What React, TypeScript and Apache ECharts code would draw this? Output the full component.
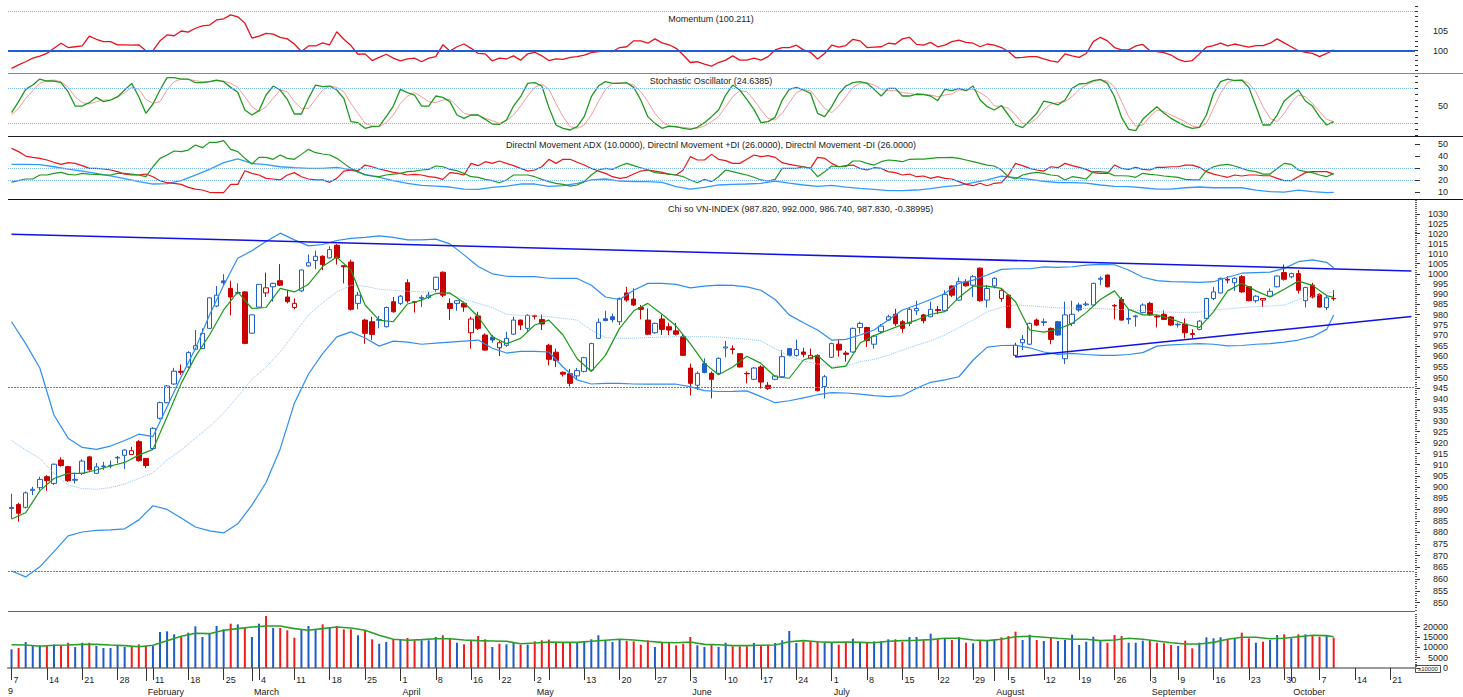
import React, { useEffect, useRef } from 'react';
import * as echarts from 'echarts';

// ---------- categories (trading days) ----------
const JAN_DAYS = [7,8,9,10,11,14,15,16,17,18,21,22,23,24,25,28,29,30,31];
const FEB_DAYS = [1,11,12,13,14,15,18,19,20,21,22,25,26,27,28];
const MAR_DAYS = [1,4,5,6,7,8,11,12,13,14,15,18,19,20,21,22,25,26,27,28,29];
const APR_DAYS = [1,2,3,4,5,8,9,10,11,12,16,17,18,19,22,23,24,25,26];
const MAY_DAYS = [2,3,6,7,8,9,10,13,14,15,16,17,20,21,22,23,24,27,28,29,30,31];
const JUN_DAYS = [3,4,5,6,7,10,11,12,13,14,17,18,19,20,21,24,25,26,27,28];
const JUL_DAYS = [1,2,3,4,5,8,9,10,11,12,15,16,17,18,19,22,23,24,25,26,29,30,31];
const AUG_DAYS = [1,2,5,6,7,8,9,12,13,14,15,16,19,20,21,22,23,26,27,28,29,30];
const SEP_DAYS = [3,4,5,6,9,10,11,12,13,16,17,18,19,20,23,24,25,26,27,30];
const OCT_DAYS = [1,2,3,4,7,8,9,10,11,14,15,16,17,18,21,22,23,24];
const MONTH_DAYS = [JAN_DAYS, FEB_DAYS, MAR_DAYS, APR_DAYS, MAY_DAYS, JUN_DAYS, JUL_DAYS, AUG_DAYS, SEP_DAYS, OCT_DAYS];
const MONTH_NAMES = ['January','February','March','April','May','June','July','August','September','October'];

// ---------- price (OHLC) ----------
const OPEN = [890.5,892.3,891,898.5,899.7,904.6,901.6,912.1,909.1,903,
 906.1,913.5,906.1,909.2,909.4,913,914.2,914.6,920.4,912.8,
 917.3,931.1,938.3,947,953,955,963.4,963.7,973.4,984.2,
 996.5,992.8,990.5,991.1,971.1,983.7,990.6,993.6,996.6,988.6,
 983.5,991.6,1003.9,1006.6,1008.7,1007.9,1014.2,1004,1005.8,985.5,
 977.4,976.6,977.3,974.2,986.3,985.5,995.6,986.3,988,988.4,
 992.3,1000.8,985.5,985.5,985.5,971.3,979.4,970.2,969.2,964.1,
 965.3,970.6,977.4,973.4,979.5,977.7,965.3,962,952.5,951.8,
 950.8,952.9,953.5,968.6,978,979,976.6,990.6,987.6,983.5,
 977.4,971.3,977.9,974.2,972.2,969.4,954.5,946.4,956.6,952,
 952,964,963.6,961.3,952,949.2,955,946.4,949.2,950.4,
 963.7,960.5,962.1,958.9,960.5,945.8,959.6,965.8,961.6,962.1,
 973.8,973.8,965.8,971.8,977.4,980.2,976.6,975.8,981.9,979.9,
 979,982.5,981.9,994,987.1,996.1,994.4,1002.8,987.1,994,
 987.9,989.5,960.5,966.5,965.8,977.4,976.2,973.4,976.6,958.9,
 975.8,984.7,984.8,984.7,997.3,999.4,984.5,987.4,978.2,979,
 981,985.5,979.2,980.2,978.9,975.1,975.4,970.9,972.9,978.2,
 987.9,990.6,997.3,995.6,998.6,993.6,986.8,987.1,989,993.6,
 1000.6,998.5,1000.1,986.8,994.4,989.9,983.5,987.82];
const HIGH = [897,893,898,900.1,904.6,905.3,910.5,913.3,909.5,906.4,
 912.4,914,910.7,911.3,911.8,913.9,916.9,918,921.2,913,
 927,938.8,946.5,954.6,956.2,962.5,972.6,973.4,988.5,994,
 999.8,996.6,995.3,991.5,980.2,995,1000.6,995.6,1004.8,991.9,
 987.9,1002,1009.6,1011.5,1009.2,1013.7,1014.8,1004.2,1007,991.1,
 978,979,979.4,984,988.6,989.5,997.3,986.5,989.5,991.1,
 998.6,1001.2,987.9,987.1,986.3,979,981.4,971,970.2,967.3,
 971.8,979,977.6,980.2,980,980,966,963.7,952.9,954,
 954.5,959.8,966.5,978.2,981.9,980.5,988.3,993.6,992.8,984.7,
 983,976.2,979.9,976.1,976,970.5,956.6,952.9,959.1,952.9,
 959.5,967.4,965.3,961.6,952.9,955,955.8,947.9,951.2,963,
 964,968,964.1,963.7,961,951.3,966.5,968,962.6,973.8,
 976.6,974.2,970.2,975.5,980,982.8,977.4,983.5,986.8,980.4,
 986.3,984.2,991.9,994.4,998.3,997.3,999.4,1003.2,994.4,998.3,
 992.8,990,966.5,970.2,976.2,978.2,978.2,973.8,977,986.3,
 986.8,985.8,986.3,995.6,998.8,999.6,985.2,988.6,982.3,979.9,
 985.5,986.3,979.9,982.1,979.4,976.2,978.2,973,977.3,988.2,
 993.6,998.1,998.8,998.3,999.4,994,989.5,988,992.8,999.2,
 1004.6,1000.6,1001.9,993.6,995.6,990.4,989.5,992];
const LOW = [886,884.7,890.5,896.4,898.6,898.3,900.9,909.1,902.3,901.6,
 905.3,907.3,905.8,907.7,908.4,910.7,908,914.3,911.3,908.4,
 916.8,930.5,938,946.6,951.3,954.5,963,963.5,973,983.7,
 994.4,979.7,989.9,965.8,970.8,983.5,988.6,986.3,994,985.5,
 982.6,991,1003.5,1002.3,1001.8,1007.5,1004.6,995.3,982,982.6,
 966,967.8,973.4,973.8,981,984.7,985.8,981.1,983.7,987.6,
 991.1,988.6,977.4,981.9,981.4,963.7,972.6,962.7,966.5,960.2,
 964.6,970.2,972.6,971.6,977.7,972.6,955.8,955,950.5,945.8,
 948.9,952.5,953,968.3,976.8,976.3,975,986.3,984.2,977.7,
 970.2,970.8,970.2,970.2,970,960.2,941.6,944.2,952,940.3,
 951.5,959.6,961,954.7,947.3,948.8,944.9,944.2,948.8,950,
 960,959.9,959.6,958.9,943.5,940.3,959.2,959.9,957.5,961.8,
 970.9,964.5,963.7,971,976.9,974.5,971.3,974.5,979.9,975.8,
 978.8,980.2,981.5,988.6,986.8,993.6,988.6,986.3,983.5,992.8,
 986.3,973.4,959.6,963,965.3,974.5,974.5,965.8,969.8,956.4,
 974.5,981.4,984.2,984.2,994.4,993.3,977.7,977,975.5,974.2,
 980.7,979.4,973.8,977.4,974.5,973.8,968.6,968.6,972.5,977.8,
 987.1,990.3,995.3,991.6,990.6,986.5,985.8,983.7,988.6,993.3,
 996.6,997.8,990.3,983.5,987.9,983.5,982.3,986.74];
const CLOSE = [891,888.4,897.4,899,903.4,902.8,910.2,909.6,902.8,903.4,
 911.6,907.7,909,909.4,909.7,913.3,916.6,916.3,911.8,909.6,
 926.5,938.3,946.1,953,952.5,961.8,965.1,971,988.2,989.5,
 995.6,988.6,990.8,966.2,979.9,994.8,993.1,995.3,994.4,986.3,
 985.5,1001.9,1005.5,1008.7,1004.6,1012,1007.9,1003.5,982.6,989.5,
 971,970.5,977.7,983.5,981.4,989,986.7,986,988.4,989.5,
 998.3,989.5,983,986.8,983.7,977.9,973.4,963,967.8,966.5,
 968.6,977.4,975,979.7,979.1,975.5,958.6,958.1,951.6,947.3,
 953.3,959.4,966.1,976.3,977.2,977.6,987.9,987.1,984.7,982.6,
 970.6,975.8,972.9,972.6,970.6,960.5,947.3,952,952.4,949.2,
 959.1,964.5,963.3,955,951.8,954.5,947.9,944.9,950.8,959.9,
 960.5,963.3,961,960.5,943.9,950.4,966.1,963,961,973.4,
 975.8,967.5,969.7,974.5,979,975.6,973.4,982.6,983,977.1,
 982.6,982,989.9,989.5,996.1,994.1,998.6,986.8,992.8,997.8,
 991.9,973.8,965.3,968.1,975.8,975,976.6,968.1,970.2,979.9,
 980.2,982.3,985.2,995.3,997.8,993.6,984.2,977.4,977.8,979.4,
 984.7,979.9,978.9,977.7,975,975.4,971.3,970.5,976.9,987.9,
 991.1,997.8,996.9,997.8,991.1,986.8,989,987.9,991.4,998.9,
 997.3,1000.1,991.9,993.3,988.6,983.7,988.22,987.83];

// Bollinger bands, 5-day average: values read at every second session (0,2,...,186) plus the last one
const BB_UPPER = [976.6,966.1,954.5,932.6,922.0,917.8,916.9,918.4,920.9,923.8,
 922.7,936.4,950.4,963.7,979.9,994.4,1007.7,1011.5,1016.1,1020.3,
 1016.9,1013.9,1014.6,1016.6,1017.7,1018.2,1018.9,1018.2,1016.9,1016.9,
 1017.3,1014.9,1009.4,1003.6,1000.0,998.8,998.6,998.6,997.8,997.7,
 997.7,994.4,988.6,987.4,991.9,995.3,995.3,994.8,993.1,993.9,
 994.4,994.3,993.6,991.9,987.4,979.9,976.1,972.6,967.8,968.1,
 970.2,972.6,977.4,982.3,984.7,987.4,990.3,995.3,996.9,999.4,
 1002.2,1002.5,1002.5,1003.4,1003.2,1003.5,1004.3,1004.7,1004.5,1001.9,
 998.3,996.6,996.1,996.0,995.8,996.1,998.3,1000.3,1000.6,1000.8,
 1002.7,1006.0,1006.9,1005.7];
const BB_UPPER_LAST = 1003.0;
const BB_MIDDLE = [920.9,916.6,912.8,906.1,900.9,899.3,899.0,899.7,901.3,903.8,
 906.3,912.1,916.6,922.0,927.3,933.5,941.1,949.2,955.0,962.1,
 971.0,979.9,985.8,991.1,994.4,993.9,992.4,991.9,991.4,991.1,
 991.1,989.9,987.6,985.5,983.5,980.2,979.7,979.4,979.0,978.2,
 977.4,972.6,969.0,968.6,968.7,969.0,969.2,969.4,969.4,969.4,
 969.2,968.7,968.2,967.4,963.7,960.2,957.8,956.4,955.4,955.4,
 957.5,958.6,960.5,963.0,965.3,967.4,970.2,973.8,977.4,981.4,
 983.6,984.7,984.3,983.8,983.3,983.2,983.0,982.9,982.6,982.4,
 981.9,981.4,981.2,981.1,981.2,982.3,982.8,983.4,983.9,984.2,
 984.7,987.4,989.0,990.3];
const BB_MIDDLE_LAST = 991.1;
const BB_LOWER = [863.4,860.9,865.2,871.7,878.5,880.2,880.9,881.1,881.6,885.5,
 891.7,890.1,886.3,882.4,880.7,879.8,883.8,892.0,902.0,917.1,
 938.0,951.7,961.3,969.3,971.7,968.8,964.9,967.3,966.8,965.8,
 966.3,966.8,967.3,967.8,963.9,961.6,962.4,962.4,962.1,955.0,
 948.9,947.0,947.3,947.3,947.0,946.9,946.9,946.9,945.8,943.9,
 943.5,943.6,943.8,941.1,938.3,939.2,940.5,942.0,943.0,942.8,
 942.3,941.6,941.1,941.6,945.0,947.8,948.9,950.4,958.3,964.4,
 965.2,965.3,964.1,962.1,961.0,961.4,960.9,960.5,960.5,960.9,
 961.8,964.9,965.5,965.8,966.1,965.8,965.0,965.2,965.8,966.1,
 966.8,967.8,969.4,972.9];
const BB_LOWER_LAST = 979.9;
const MA_FAST = [885.9,888.6,898.3,903.8,906.1,906.1,907.6,909.4,911.0,914.3,
 916.9,931.8,947.3,959.9,970.2,982.3,991.1,983.0,983.5,992.8,
 991.1,994.9,1003.6,1008.3,1001.9,984.7,977.4,976.6,985.2,987.1,
 990.3,990.6,985.8,979.0,969.4,966.1,968.6,975.0,977.4,970.2,
 958.9,952.9,960.5,973.4,981.9,985.5,980.2,974.5,966.1,956.7,
 951.3,955.0,960.1,956.7,950.4,949.7,958.3,960.5,954.5,955.4,
 966.4,969.9,972.6,975.2,977.4,980.2,981.5,988.4,993.9,993.9,
 992.8,986.3,972.6,971.6,973.0,975.8,981.0,987.4,991.6,982.6,
 979.9,979.9,977.9,975.5,973.8,981.4,991.6,995.3,991.6,988.6,
 992.4,996.4,994.3,989.3];
const MA_FAST_LAST = 988.4;

const UPPER_TREND = [1019.8, 1001.4];
const LOWER_TREND = [959.7, 979.1];
const SUPPORT_LEVELS = [945.6, 863.4];

// ---------- momentum ----------
const MOMENTUM = [95.5,96.4,97.2,98.1,98.6,99.3,100.6,101.9,100.8,101.0,
 101.2,103.7,102.9,102.3,102.3,101.5,101.5,101.4,101.5,100.0,
 100.0,102.5,104.0,103.8,105.0,104.7,105.7,106.3,106.5,107.8,
 108.1,109.1,108.6,107.0,103.2,103.7,104.4,104.2,103.4,103.0,
 101.7,99.8,101.2,101.2,102.0,101.5,104.8,102.9,101.3,99.1,
 99.2,97.5,98.3,99.1,98.1,97.4,97.9,98.1,97.2,98.1,
 98.5,101.5,99.9,101.0,101.7,100.6,99.3,99.2,97.4,98.1,
 97.9,98.7,97.6,99.2,99.6,98.7,97.5,97.9,97.8,98.3,
 98.5,98.9,99.5,99.8,99.9,99.8,100.8,101.0,102.5,102.5,
 101.9,103.0,102.0,101.5,100.6,98.9,97.0,97.2,96.6,96.1,
 97.0,97.6,98.7,97.6,97.6,98.1,97.6,98.5,100.2,100.8,
 100.8,101.4,100.2,99.6,97.9,99.3,101.4,100.9,101.3,102.9,
 102.5,100.8,100.9,101.0,101.9,101.7,103.0,103.4,101.6,101.4,
 102.1,101.0,101.4,102.3,102.7,102.1,101.9,101.0,101.7,101.4,
 100.8,99.8,98.2,98.3,98.5,98.5,97.9,97.4,97.1,99.2,
 98.7,98.3,99.3,102.3,103.4,102.5,100.8,100.2,100.2,101.2,
 101.6,100.0,99.8,99.5,98.9,97.8,97.2,97.5,99.2,100.9,
 101.3,101.9,101.2,101.7,101.3,100.9,101.3,101.3,101.9,103.0,
 102.0,101.0,100.0,99.6,99.3,98.5,99.3,100.2];

// ---------- stochastic ----------
const STOCH_K = [38.2,57.1,78.2,85.6,95.9,92.5,92.5,89.6,74.2,49.6,
 49.6,55.4,64.5,57.1,59.9,65.6,77.1,88.5,65.6,37.1,
 53.1,77.1,98.2,98.2,95.9,95.9,89.6,89.6,91.4,94.2,
 91.4,81.6,73.1,42.8,34.2,41.7,68.5,83.9,77.1,61.1,
 35.9,35.9,62.8,85.6,82.8,83.9,77.1,62.8,22.8,21.1,
 11.4,14.2,15.3,31.4,49.6,78.2,72.5,68.5,49.6,49.6,
 66.8,64.5,57.1,34.2,28.5,34.2,34.2,26.8,18.8,18.0,
 25.6,49.6,65.6,88.5,89.6,83.9,47.3,17.1,11.4,8.5,
 14.2,31.4,65.6,83.9,91.4,88.5,88.5,89.6,81.6,59.9,
 31.4,19.9,11.4,15.3,14.2,11.4,9.6,13.1,21.1,31.4,
 42.8,68.5,85.6,77.1,61.1,43.9,21.1,22.8,30.2,59.9,
 78.2,81.6,77.1,71.4,37.1,31.4,48.5,70.2,83.9,89.6,
 91.4,88.5,78.2,66.8,79.9,79.9,66.8,66.8,70.2,69.6,
 66.8,58.8,78.2,75.9,79.9,75.9,83.9,59.9,48.5,42.8,
 50.5,34.2,17.1,12.5,24.5,37.1,58.2,55.4,51.4,59.9,
 79.9,87.4,88.5,93.1,95.4,88.5,65.6,30.2,9.6,7.4,
 26.8,38.2,48.5,37.1,28.5,21.6,15.3,11.4,13.1,34.2,
 71.4,91.4,95.9,93.1,94.2,81.6,49.6,17.1,17.1,34.2,
 58.2,68.5,77.1,58.2,49.6,31.4,17.1,22.8];
const STOCH_D = [34.2,45.6,62.8,75.9,88.5,93.1,94.2,91.4,81.6,65.6,
 55.4,53.1,57.1,59.9,59.9,64.5,72.5,81.6,78.2,61.1,
 54.2,57.1,77.1,91.4,95.9,95.4,93.1,91.4,91.4,92.5,
 92.5,88.5,81.6,65.6,48.5,39.9,48.5,62.8,77.1,74.2,
 57.1,45.6,45.6,61.1,77.1,83.9,81.6,74.2,54.2,37.1,
 19.9,15.3,14.2,21.1,34.2,54.2,66.8,72.5,65.6,57.1,
 55.4,59.9,61.1,49.6,37.1,34.2,34.2,28.5,24.5,19.9,
 24.5,34.2,49.6,66.8,81.6,87.4,78.2,54.2,31.4,14.2,
 11.4,17.1,34.2,57.1,78.2,88.5,89.6,88.5,85.6,74.2,
 57.1,37.1,22.8,15.3,13.1,13.1,11.4,11.4,15.3,22.8,
 31.4,48.5,65.6,75.9,74.2,59.9,42.8,28.5,25.6,37.1,
 55.4,72.5,78.2,75.9,61.1,45.6,38.2,49.6,65.6,81.6,
 88.5,89.6,85.6,78.2,75.9,75.9,72.5,71.4,68.5,68.5,
 68.5,65.6,68.5,70.2,77.1,77.1,78.2,72.5,64.5,49.6,
 49.0,45.6,34.2,19.9,19.9,28.5,42.8,53.1,55.4,57.1,
 65.6,78.2,85.6,91.4,94.2,92.5,82.8,57.1,31.4,15.3,
 17.1,31.4,42.8,39.9,34.2,28.5,22.8,15.3,13.1,19.9,
 45.6,71.4,89.6,94.2,94.2,88.5,74.2,48.5,28.5,22.8,
 37.1,55.4,68.5,65.6,54.2,39.9,26.8,22.8];

// ---------- directional movement ----------
const MINUS_DI = [46.6,43.9,40.2,39.1,38.3,36.9,35.0,33.3,34.7,34.1,
 32.2,29.9,29.9,29.4,28.6,27.2,25.2,24.4,24.4,25.2,
 23.0,19.7,18.0,17.5,16.6,14.1,12.7,11.9,10.0,9.7,
 9.7,16.6,16.6,28.0,25.8,24.4,21.6,21.1,20.3,24.4,
 26.4,23.0,21.1,20.3,20.3,18.3,21.6,27.7,28.6,28.0,
 32.7,31.3,29.4,28.0,26.6,25.8,24.4,24.9,24.4,23.0,
 22.5,20.8,26.4,25.8,24.4,34.1,32.2,35.5,34.1,36.1,
 34.1,32.2,29.9,27.7,28.6,31.3,37.5,34.1,37.5,37.5,
 35.0,32.7,29.9,27.7,25.8,23.0,21.6,22.5,25.2,27.7,
 28.6,27.7,26.6,25.2,24.4,28.6,39.7,36.9,36.9,41.6,
 37.5,36.4,34.1,34.1,37.5,41.1,39.7,40.5,39.1,34.7,
 33.3,32.2,31.3,29.9,39.1,38.3,34.1,31.3,32.2,32.7,
 29.9,28.6,30.5,29.9,27.2,26.4,24.4,25.2,23.0,23.6,
 21.6,23.0,21.6,21.1,18.9,16.6,15.5,17.5,15.5,17.5,
 18.0,24.4,34.1,32.2,29.9,28.6,27.7,31.3,30.5,34.1,
 32.2,30.8,29.1,26.4,25.8,25.8,32.7,29.9,29.1,30.8,
 29.1,28.6,30.8,30.8,31.3,31.3,32.7,32.7,30.8,27.2,
 25.2,23.8,22.5,24.4,23.6,24.4,24.4,23.8,23.8,21.6,
 19.7,19.7,23.0,26.4,27.2,27.2,27.2,25.2];
const PLUS_DI = [18.5,19.7,21.1,21.1,24.4,24.4,25.8,26.6,24.9,24.4,
 25.8,25.2,24.9,24.4,24.4,25.8,25.8,25.2,24.4,23.0,
 31.3,38.3,41.1,44.4,43.9,45.2,49.4,47.2,51.6,51.6,
 53.0,45.8,43.9,38.3,33.6,39.1,39.1,37.5,41.1,38.3,
 37.5,41.6,45.8,43.0,41.9,41.1,38.3,34.1,29.9,27.2,
 24.4,23.6,23.0,24.4,25.2,25.8,27.2,27.7,28.6,29.1,
 31.9,31.3,29.1,28.0,25.8,23.0,22.5,20.8,19.7,18.0,
 20.3,24.4,24.4,24.4,23.0,20.8,18.9,17.5,16.6,15.2,
 16.1,18.9,24.4,28.6,29.9,29.1,31.9,34.1,32.2,30.5,
 28.6,26.4,25.8,25.2,24.4,23.0,20.3,18.0,20.8,18.9,
 23.0,28.6,27.2,25.8,24.4,22.5,20.3,19.4,20.8,29.9,
 29.9,29.9,31.3,29.9,23.0,27.2,31.9,31.3,31.3,36.1,
 36.1,34.1,32.7,35.5,36.9,36.4,35.5,37.5,37.7,37.7,
 38.3,38.9,38.9,39.1,38.3,36.9,35.5,34.1,32.7,31.9,
 28.6,23.0,21.1,24.4,25.8,26.6,25.8,24.4,23.8,20.3,
 23.0,22.2,21.1,27.2,27.2,26.6,23.8,23.8,23.6,22.5,
 25.8,24.9,24.4,23.6,23.0,22.5,20.8,20.3,20.3,28.0,
 31.3,32.7,33.3,31.9,29.9,28.0,27.2,25.2,25.2,29.9,
 34.1,33.3,28.6,27.2,26.4,24.4,23.0,25.8];
// ADX read at every second session, plus the last one
const ADX = [33.3,33.3,33.0,31.3,29.4,27.7,25.8,23.6,21.4,18.9,
 16.9,17.2,19.7,24.4,29.1,34.7,37.8,34.1,33.0,31.3,
 30.5,29.9,29.9,30.8,28.6,24.9,22.5,19.7,17.5,15.8,
 15.2,14.4,12.7,12.5,14.1,15.2,16.9,16.9,14.9,15.5,
 17.5,20.3,21.1,19.4,18.9,18.9,18.3,14.7,12.7,14.1,
 16.1,16.6,16.9,17.5,19.4,17.7,16.1,14.9,15.8,14.4,
 13.3,12.5,11.4,11.4,11.9,13.0,14.7,15.8,18.0,20.3,
 23.4,22.2,20.8,19.2,18.0,18.0,17.7,16.1,14.9,14.7,
 13.8,12.7,12.7,13.8,14.4,13.8,13.8,13.8,11.9,10.5,
 10.2,11.9,10.5,9.7];
const ADX_LAST = 10.0;

// ---------- volume ----------
const VOLUME = [9050,9680,12580,10650,10990,10650,11280,10990,12240,10160,
 12240,12240,10650,9680,9680,10990,10160,10650,11450,10650,
 10650,17420,17750,16300,15000,17090,20170,15000,16620,20330,
 18720,21450,21130,19840,15000,21450,25170,19360,19360,18250,
 14670,18720,20330,18720,21130,19360,20330,18720,18720,15830,
 17910,13890,11760,12580,13890,13890,14520,13410,13410,13410,
 15000,15830,14190,12240,11450,
 13410,15490,13890,10160,11760,11450,12240,11280,11280,12910,
 13410,13730,12580,12100,12100,12100,12910,13890,15830,13410,
 12580,13730,13080,12910,11280,13410,10160,12580,12580,10990,
 11760,15000,10990,10160,11280,10160,12240,10500,10500,10500,
 12100,10990,11280,12100,13410,17910,12100,12580,12580,12910,
 12240,12580,11280,12100,14190,12580,12100,12910,12910,13890,
 13890,12580,15000,15000,13410,16620,
 14000,
 14370,13550,14860,12240,11950,13550,13550,13890,14860,15490,
 17570,13550,16120,13550,13070,14860,13070,13550,16120,11130,
 12730,15150,13230,12240,15970,15490,12240,12240,13230,13230,
 12240,11950,11130,10650,13230,9530,12240,14860,14370,14860,
 13890,14370,17090,14370,12240,12730,13550,15970,16300,14370,
 16300,16300,15970,15150,15970,14670];
// volume average read at every second session, plus the last one
const VOLUME_MA = [11280,11130,10500,10990,11130,11450,11450,11130,10840,10310,
 10990,13230,15340,16790,16620,18250,19040,19840,20330,20330,
 19040,18250,19040,19840,19360,18250,15830,13890,13410,13730,
 14190,14190,13570,13230,13070,12910,11760,12100,12580,12420,
 12420,12910,13410,13890,13570,12910,12420,12240,12580,11450,
 11280,10840,10840,10990,11130,12740,13230,12740,12420,12580,
 12420,12240,12910,13230,13410,13730,14370,14370,13550,13230,
 13890,15150,15340,14860,14370,13890,13890,13230,13550,14370,
 13890,13070,12240,11620,11620,12400,13890,14860,14860,14180,
 14370,15150,15830,15650];
const VOLUME_MA_LAST = 15150;

// tick label lists
const PRICE_LABELS = [850,855,860,865,870,875,880,885,890,895,900,905,910,915,920,925,930,935,940,945,950,955,960,965,970,975,980,985,990,995,1000,1005,1010,1015,1020,1025,1030];
const MOM_LABELS = [100, 105];
const STOCH_LABELS = [50];
const DMI_LABELS = [10, 20, 30, 40, 50];
const VOL_LABELS = [0, 5000, 10000, 15000, 20000];

const BLUE = '#1f5fc8';
const RED = '#c80000';
const VBLUE = '#1f5bc4';
const VRED = '#f01c1c';
const FONT = '"Liberation Sans", Arial, sans-serif';

export default function App() {
  const ref = useRef<HTMLDivElement>(null);
  useEffect(() => {
    if (!ref.current) return;
    const chart = echarts.init(ref.current, undefined, { renderer: 'svg' });

    // categories
    const cats: string[] = [];
    const dayNum: number[] = [];
    const monthIdx: number[] = [];
    const dows: number[] = [];
    MONTH_DAYS.forEach((days, m) => days.forEach((d) => {
      cats.push(`2019-${m + 1}-${d}`);
      dayNum.push(d);
      monthIdx.push(m);
      dows.push(new Date(2019, m, d).getDay());
    }));
    const N = cats.length;
    const weekStart: boolean[] = [];
    const monthStart: boolean[] = [];
    const dayLabel: boolean[] = [];
    let lastLab = -10;
    for (let i = 0; i < N; i++) {
      const ws = i === 0 || dows[i] <= dows[i - 1];
      weekStart.push(ws);
      monthStart.push(i > 0 && monthIdx[i] !== monthIdx[i - 1]);
      const lab = ws && i - lastLab >= 3;
      if (lab) lastLab = i;
      dayLabel.push(lab);
    }

    const candleData = CLOSE.map((c, i) => {
      const o = OPEN[i];
      const prev = i > 0 ? CLOSE[i - 1] : o - 1;
      const col = c >= prev ? BLUE : RED;
      const fill = c >= o ? '#ffffff' : col;
      return { value: [o, c, LOW[i], HIGH[i]], itemStyle: { color: fill, color0: fill, borderColor: col, borderColor0: col, borderWidth: 1 } };
    });
    const volData = VOLUME.map((v, i) => {
      const prev = i > 0 ? CLOSE[i - 1] : OPEN[0] - 1;
      return { value: v, itemStyle: { color: CLOSE[i] >= prev ? VBLUE : VRED } };
    });
    const every2 = (arr: number[], last: number) => {
      const out: number[][] = arr.map((v, k) => [2 * k, v]);
      out.push([CLOSE.length - 1, last]);
      return out;
    };
    const range = (a: number, b: number, s: number) => { const r: number[] = []; for (let v = a; v <= b + 1e-9; v += s) r.push(Math.round(v * 100) / 100); return r; };
    const plain = (v: number) => String(Math.round(v));

    const lbl = { fontSize: 9, color: '#222', fontFamily: FONT };
    const xCat = (gi: number) => ({ type: 'category', gridIndex: gi, data: cats, show: false, boundaryGap: true });
    const valAxis = (gi: number, min: number, max: number, labels: number[], ticks: number[], tickLen: number) => ({
      type: 'value', gridIndex: gi, position: 'right', min, max, scale: true,
      splitLine: { show: false },
      axisLine: { show: false },
      axisTick: { show: true, customValues: ticks, length: tickLen, lineStyle: { color: '#333', width: 1 } },
      axisLabel: { show: true, customValues: labels, align: 'right', margin: 33, formatter: plain, ...lbl },
    });
    const dotted = (v: number, color: string) => ({ yAxis: v, lineStyle: { color, width: 1, type: 'dotted' } });
    const lineS = (xi: number, yi: number, data: any, color: string, width: number, extra: any = {}) => ({
      type: 'line', xAxisIndex: xi, yAxisIndex: yi, data, symbol: 'none', silent: true, connectNulls: true,
      lineStyle: { color, width }, itemStyle: { color }, z: 3, ...extra,
    });
    const mk = (data: any[]) => ({ silent: true, symbol: 'none', label: { show: false }, emphasis: { disabled: true }, data });

    const grids = [
      { left: 8, right: 48, top: 0, height: 73 },
      { left: 8, right: 48, top: 73.5, height: 62.5 },
      { left: 8, right: 48, top: 136.5, height: 62.5 },
      { left: 8, right: 48, top: 200, height: 411.5 },
      { left: 8, right: 48, top: 612.5, height: 59.5 },
    ].map((g) => ({ ...g, containLabel: false, outerBoundsMode: 'none' }));

    const option: any = {
      animation: false,
      backgroundColor: '#ffffff',
      textStyle: { fontFamily: FONT },
      grid: grids,
      xAxis: [
        xCat(0), xCat(1), xCat(2), xCat(3),
        {
          type: 'category', gridIndex: 4, data: cats, boundaryGap: true, position: 'bottom',
          axisLine: { show: true, lineStyle: { color: '#333', width: 1 } },
          axisTick: { show: true, alignWithLabel: true, length: 12, interval: (i: number) => weekStart[i] || monthStart[i], lineStyle: { color: '#333' } },
          axisLabel: { show: true, interval: (i: number) => dayLabel[i], formatter: (_v: string, i: number) => String(dayNum[i]), align: 'left', padding: [0, 0, 0, 2], margin: 3, ...lbl },
          splitLine: { show: false },
        },
        {
          type: 'category', gridIndex: 4, data: cats, boundaryGap: true, position: 'bottom', offset: 12,
          axisLine: { show: true, lineStyle: { color: '#999', width: 2 } },
          axisTick: { show: true, alignWithLabel: true, length: 13, interval: (i: number) => monthStart[i], lineStyle: { color: '#333' } },
          axisLabel: { show: true, interval: (i: number) => monthStart[i], formatter: (_v: string, i: number) => MONTH_NAMES[monthIdx[i]], align: 'left', padding: [0, 0, 0, 2], margin: 3, ...lbl },
          splitLine: { show: false },
        },
      ],
      yAxis: [
        valAxis(0, 94.34, 112.87, MOM_LABELS, range(95, 112, 1.25), 3),
        valAxis(1, -1.8, 105.4, STOCH_LABELS, range(0, 100, 10), 3),
        valAxis(2, 4.42, 56.5, DMI_LABELS, DMI_LABELS, 5),
        {
          type: 'log', logBase: 10, gridIndex: 3, position: 'right', min: 846.3, max: 1037.15,
          splitLine: { show: false }, axisLine: { show: false },
          axisTick: { show: true, customValues: PRICE_LABELS, length: 5, lineStyle: { color: '#333' } },
          axisLabel: { show: true, customValues: PRICE_LABELS, align: 'right', margin: 33, formatter: plain, ...lbl },
        },
        {
          type: 'log', logBase: 10, gridIndex: 3, position: 'right', min: 846.3, max: 1037.15,
          splitLine: { show: false }, axisLine: { show: false },
          axisTick: { show: true, customValues: range(847, 1037, 1), length: 2, lineStyle: { color: '#555' } },
          axisLabel: { show: false },
        },
        valAxis(4, -1936, 26860, VOL_LABELS, VOL_LABELS, 5),
        {
          type: 'value', gridIndex: 4, position: 'right', min: -1936, max: 26860,
          splitLine: { show: false }, axisLine: { show: false },
          axisTick: { show: true, customValues: range(0, 26000, 1000), length: 2, lineStyle: { color: '#555' } },
          axisLabel: { show: false },
        },
      ],
      series: [
        lineS(0, 0, MOMENTUM, '#e5131b', 1.3, { markLine: mk([
          { yAxis: 100, lineStyle: { color: '#1f5fd6', width: 2, type: 'solid' } },
          dotted(110, '#7fb6f4'),
        ]) }),
        lineS(1, 1, STOCH_D, '#f29a9a', 1, { markLine: mk([dotted(80, '#7fb6f4'), dotted(20, '#7fb6f4')]) }),
        lineS(1, 1, STOCH_K, '#1e9a1e', 1.3),
        lineS(2, 2, every2(ADX, ADX_LAST), '#3399ff', 1.3, { markLine: mk([dotted(30, '#7fb6f4'), dotted(20, '#7fb6f4')]) }),
        lineS(2, 2, MINUS_DI, '#e8161b', 1.2),
        lineS(2, 2, PLUS_DI, '#1e9a1e', 1.2),
        {
          type: 'candlestick', xAxisIndex: 3, yAxisIndex: 3, data: candleData, barWidth: 5, silent: true, z: 2,
          markLine: mk([
            [{ coord: [cats[0], UPPER_TREND[0]] }, { coord: [cats[N - 1], UPPER_TREND[1]], lineStyle: { color: '#1010e8', width: 1.5, type: 'solid' } }],
            [{ coord: [cats[142], LOWER_TREND[0]] }, { coord: [cats[N - 1], LOWER_TREND[1]], lineStyle: { color: '#1010e8', width: 1.5, type: 'solid' } }],
            { yAxis: SUPPORT_LEVELS[0], lineStyle: { color: '#6a6af2', width: 1, type: [2, 1] } },
            { yAxis: SUPPORT_LEVELS[1], lineStyle: { color: '#6a6af2', width: 1, type: [2, 1] } },
          ]),
        },
        lineS(3, 3, every2(BB_UPPER, BB_UPPER_LAST), '#2e8ef0', 1.2),
        lineS(3, 3, every2(BB_LOWER, BB_LOWER_LAST), '#2e8ef0', 1.2),
        lineS(3, 3, every2(BB_MIDDLE, BB_MIDDLE_LAST), '#8ec4f6', 1, { lineStyle: { color: '#8ec4f6', width: 1, type: 'dotted' } }),
        lineS(3, 3, every2(MA_FAST, MA_FAST_LAST), '#1a9a1a', 1.2),
        { type: 'bar', xAxisIndex: 4, yAxisIndex: 5, data: volData, barWidth: 2, silent: true, z: 2 },
        lineS(4, 5, every2(VOLUME_MA, VOLUME_MA_LAST), '#2aa02a', 1.6),
      ],
      graphic: [
        { type: 'line', shape: { x1: 8, y1: 73.5, x2: 1463, y2: 73.5 }, style: { stroke: '#888', lineWidth: 1 }, silent: true },
        { type: 'line', shape: { x1: 8, y1: 136.5, x2: 1463, y2: 136.5 }, style: { stroke: '#1a1a30', lineWidth: 1 }, silent: true },
        { type: 'line', shape: { x1: 8, y1: 199.5, x2: 1463, y2: 199.5 }, style: { stroke: '#111', lineWidth: 1 }, silent: true },
        { type: 'line', shape: { x1: 8, y1: 611.5, x2: 1415, y2: 611.5 }, style: { stroke: '#666', lineWidth: 1 }, silent: true },
        { type: 'text', x: 711, y: 19, style: { text: 'Momentum (100.211)', font: `9px ${FONT}`, fill: '#222', textAlign: 'center', textVerticalAlign: 'middle' }, silent: true },
        { type: 'text', x: 711, y: 81, style: { text: 'Stochastic Oscillator (24.6385)', font: `9px ${FONT}`, fill: '#222', textAlign: 'center', textVerticalAlign: 'middle' }, silent: true },
        { type: 'text', x: 711, y: 145, style: { text: 'Directnl Movement ADX (10.0000), Directnl Movement +DI (26.0000), Directnl Movement -DI (26.0000)', font: `9px ${FONT}`, fill: '#222', textAlign: 'center', textVerticalAlign: 'middle' }, silent: true },
        { type: 'text', x: 668, y: 209, style: { text: 'Chi so VN-INDEX (987.820, 992.000, 986.740, 987.830, -0.38995)', font: `9px ${FONT}`, fill: '#222', textAlign: 'left', textVerticalAlign: 'middle' }, silent: true },
        { type: 'text', x: 8, y: 691, style: { text: '9', font: `9px ${FONT}`, fill: '#222', textAlign: 'left', textVerticalAlign: 'middle' }, silent: true },
        { type: 'rect', shape: { x: 1415.5, y: 665.5, width: 25, height: 7 }, style: { stroke: '#222', lineWidth: 0.8, fill: '#fff' }, silent: true },
        { type: 'text', x: 1428, y: 669.2, style: { text: 'x10000', font: `6px ${FONT}`, fill: '#222', textAlign: 'center', textVerticalAlign: 'middle' }, silent: true },
      ],
    };
    chart.setOption(option);
    return () => chart.dispose();
  }, []);
  return <div ref={ref} style={{ position: 'absolute', left: 0, top: 0, width: 1463, height: 697, background: '#fff' }} />;
}
